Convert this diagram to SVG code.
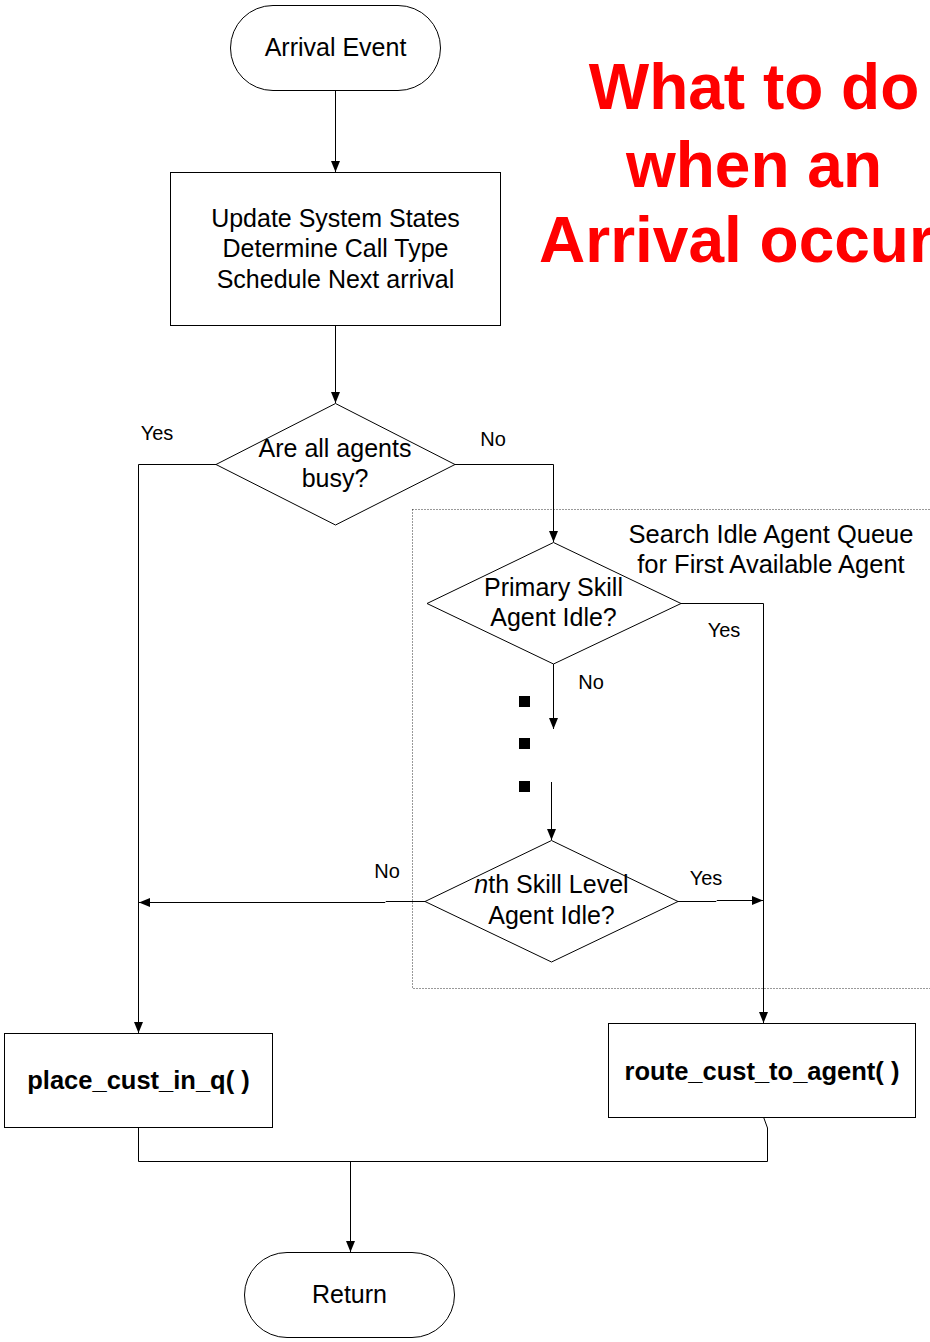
<svg xmlns="http://www.w3.org/2000/svg" width="930" height="1342" viewBox="0 0 930 1342">
  <style>
    .shape { fill: #ffffff; stroke: #000000; stroke-width: 1; }
    .txt { font-family: "Liberation Sans", Arial, sans-serif; font-size: 25px; fill: #000000; text-anchor: middle; }
    .note { font-size: 25.5px; }
    .bold { font-weight: bold; font-size: 25.5px; }
    .lbl { font-family: "Liberation Sans", Arial, sans-serif; font-size: 20px; fill: #000000; text-anchor: middle; }
    .title { font-family: "Liberation Sans", Arial, sans-serif; font-size: 64px; font-weight: bold; fill: #ff0000; }
    .wire { fill: none; stroke: #000000; stroke-width: 1; }
  </style>
  <defs>
    <marker id="arrow" markerUnits="userSpaceOnUse" markerWidth="12" markerHeight="10" refX="11" refY="5" orient="auto">
      <path d="M0,0.5 L11,5 L0,9.5 z" fill="#000000"/>
    </marker>
  </defs>

  <rect width="930" height="1342" fill="#ffffff"/>

  <!-- dotted boundary of the idle-agent search -->
  <rect id="search-region" x="412.5" y="509.5" width="540" height="479" fill="none" stroke="#333333" stroke-width="1" stroke-dasharray="1,2"/>
  <text class="txt note" x="771" y="543">Search Idle Agent Queue</text>
  <text class="txt note" x="771" y="573">for First Available Agent</text>

  <!-- title -->
  <g id="title">
    <text class="title" x="754" y="109" text-anchor="middle">What to do</text>
    <text class="title" x="754" y="187" text-anchor="middle">when an</text>
    <text class="title" x="539" y="262">Arrival occur</text>
  </g>

  <!-- connectors -->
  <g id="connectors">
    <line class="wire" x1="335.5" y1="91" x2="335.5" y2="172" marker-end="url(#arrow)"/>
    <line class="wire" x1="335.5" y1="326" x2="335.5" y2="403" marker-end="url(#arrow)"/>
    <polyline class="wire" points="216,464.5 138.5,464.5 138.5,1033" marker-end="url(#arrow)"/>
    <polyline class="wire" points="455,464.5 553.5,464.5 553.5,542" marker-end="url(#arrow)"/>
    <polyline class="wire" points="681,603.5 763.5,603.5 763.5,1023" marker-end="url(#arrow)"/>
    <line class="wire" x1="553.5" y1="664" x2="553.5" y2="729" marker-end="url(#arrow)"/>
    <line class="wire" x1="551.5" y1="782" x2="551.5" y2="840" marker-end="url(#arrow)"/>
    <polyline class="wire" points="425,901.5 386,901.5 385,902.5 139,902.5" marker-end="url(#arrow)"/>
    <polyline class="wire" points="678,901.5 716,901.5 717,900.5 763,900.5" marker-end="url(#arrow)"/>
    <polyline class="wire" points="138.5,1128 138.5,1161.5 767.5,1161.5 767.5,1128 763.5,1117"/>
    <line class="wire" x1="350.5" y1="1161.5" x2="350.5" y2="1252" marker-end="url(#arrow)"/>
  </g>

  <!-- branch labels -->
  <g id="labels">
    <text class="lbl" x="157" y="440">Yes</text>
    <text class="lbl" x="493" y="446">No</text>
    <text class="lbl" x="724" y="637">Yes</text>
    <text class="lbl" x="591" y="689">No</text>
    <text class="lbl" x="387" y="878">No</text>
    <text class="lbl" x="706" y="885">Yes</text>
  </g>

  <!-- elided intermediate skill levels -->
  <g id="ellipsis" fill="#000000">
    <rect x="519" y="696" width="11" height="11"/>
    <rect x="519" y="738" width="11" height="11"/>
    <rect x="519" y="781" width="11" height="11"/>
  </g>

  <g id="arrival-event">
    <rect class="shape" x="230.5" y="5.5" width="210" height="85" rx="42.5" ry="42.5"/>
    <text class="txt" x="335.5" y="56">Arrival Event</text>
  </g>

  <g id="update-states">
    <rect class="shape" x="170.5" y="172.5" width="330" height="153"/>
    <text class="txt" x="335.5" y="227">Update System States</text>
    <text class="txt" x="335.5" y="257">Determine Call Type</text>
    <text class="txt" x="335.5" y="288">Schedule Next arrival</text>
  </g>

  <g id="all-busy">
    <polygon class="shape" points="335.5,403.5 455,464.5 335.5,525 216,464.5"/>
    <text class="txt" x="335" y="457">Are all agents</text>
    <text class="txt" x="335" y="487">busy?</text>
  </g>

  <g id="primary-idle">
    <polygon class="shape" points="553.5,542.5 681,603.5 553.5,664 427,603.5"/>
    <text class="txt" x="553.5" y="596">Primary Skill</text>
    <text class="txt" x="553.5" y="626">Agent Idle?</text>
  </g>

  <g id="nth-idle">
    <polygon class="shape" points="551.5,840.5 678,901.5 551.5,962 425,901.5"/>
    <text class="txt" x="551.5" y="893"><tspan font-style="italic">n</tspan>th Skill Level</text>
    <text class="txt" x="551.5" y="924">Agent Idle?</text>
  </g>

  <g id="place-in-queue">
    <rect class="shape" x="4.5" y="1033.5" width="268" height="94"/>
    <text class="txt bold" x="138.5" y="1089">place_cust_in_q( )</text>
  </g>

  <g id="route-to-agent">
    <rect class="shape" x="608.5" y="1023.5" width="307" height="94"/>
    <text class="txt bold" x="762" y="1080">route_cust_to_agent( )</text>
  </g>

  <g id="return">
    <rect class="shape" x="244.5" y="1252.5" width="210" height="85" rx="42.5" ry="42.5"/>
    <text class="txt" x="349.5" y="1303">Return</text>
  </g>
</svg>
